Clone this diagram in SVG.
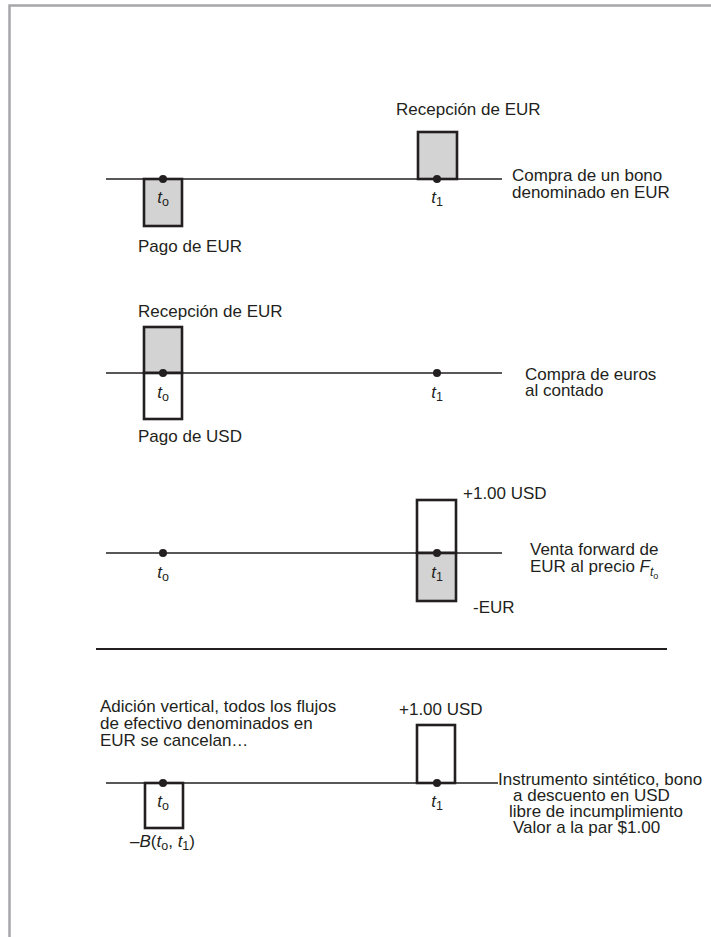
<svg xmlns="http://www.w3.org/2000/svg" width="711" height="937" viewBox="0 0 711 937">
<style>
text{font-family:"Liberation Sans",Arial,sans-serif;font-size:17px;fill:#231f20}
.it{font-style:italic}
.sub{font-size:12.5px;font-style:normal}
.ax{stroke:#231f20;stroke-width:1.6;fill:none}
.box{stroke:#231f20;stroke-width:2.6}
.g{fill:#d3d3d3}
.w{fill:#ffffff}
.dot{fill:#231f20}
</style>
<rect x="0" y="0" width="711" height="937" fill="#ffffff"/>
<polyline points="9.5,937 9.5,5.5 711,5.5" fill="none" stroke="#a7a7a9" stroke-width="2.5"/>

<g id="connectors">
<line class="ax" x1="106" y1="179" x2="502" y2="179"/>
<line class="ax" x1="106" y1="373" x2="502" y2="373"/>
<line class="ax" x1="106" y1="553" x2="502" y2="553"/>
<line x1="96" y1="649" x2="667" y2="649" stroke="#231f20" stroke-width="2"/>
<line class="ax" x1="106" y1="783" x2="498" y2="783"/>
</g>

<g id="s1-t0">
<rect class="box g" x="144" y="179" width="38" height="47"/>
<circle class="dot" cx="163" cy="179" r="4"/>
<text x="163" y="203" text-anchor="middle"><tspan class="it">t</tspan><tspan class="sub" dy="3">o</tspan></text>
<text x="138" y="252">Pago de EUR</text>
</g>
<g id="s1-t1">
<rect class="box g" x="418" y="132" width="39" height="47"/>
<circle class="dot" cx="437" cy="179" r="4"/>
<text x="437" y="203" text-anchor="middle"><tspan class="it">t</tspan><tspan class="sub" dy="3">1</tspan></text>
<text x="396" y="115">Recepción de EUR</text>
</g>
<g id="s1-label">
<text x="512" y="181">Compra de un bono</text>
<text x="512" y="198">denominado en EUR</text>
</g>

<g id="s2-t0">
<rect class="box g" x="144" y="327" width="38" height="46"/>
<rect class="box w" x="144" y="373" width="38" height="46"/>
<line class="ax" x1="144" y1="373" x2="182" y2="373"/>
<circle class="dot" cx="163" cy="373" r="4"/>
<text x="163" y="398" text-anchor="middle"><tspan class="it">t</tspan><tspan class="sub" dy="3">o</tspan></text>
<text x="138" y="317">Recepción de EUR</text>
<text x="138" y="442">Pago de USD</text>
</g>
<g id="s2-t1">
<circle class="dot" cx="437" cy="373" r="4"/>
<text x="437" y="398" text-anchor="middle"><tspan class="it">t</tspan><tspan class="sub" dy="3">1</tspan></text>
</g>
<g id="s2-label">
<text x="525" y="380">Compra de euros</text>
<text x="525" y="396">al contado</text>
</g>

<g id="s3-t0">
<circle class="dot" cx="163" cy="553" r="4"/>
<text x="163" y="578" text-anchor="middle"><tspan class="it">t</tspan><tspan class="sub" dy="3">o</tspan></text>
</g>
<g id="s3-t1">
<rect class="box w" x="417" y="500" width="39" height="53"/>
<rect class="box g" x="417" y="553" width="39" height="48"/>
<line class="ax" x1="417" y1="553" x2="456" y2="553"/>
<circle class="dot" cx="437" cy="553" r="4"/>
<text x="437" y="578" text-anchor="middle"><tspan class="it">t</tspan><tspan class="sub" dy="3">1</tspan></text>
<text x="463" y="499">+1.00 USD</text>
<text x="473" y="613">-EUR</text>
</g>
<g id="s3-label">
<text x="530" y="555">Venta forward de</text>
<text x="530" y="572">EUR al precio <tspan class="it">F</tspan><tspan class="it" font-size="12px" dy="4">t</tspan><tspan font-size="9px" dy="3">o</tspan></text>
</g>

<g id="s4-text">
<text x="100" y="712">Adición vertical, todos los flujos</text>
<text x="100" y="729">de efectivo denominados en</text>
<text x="100" y="746">EUR se cancelan…</text>
</g>
<g id="s4-t0">
<rect class="box w" x="145" y="783" width="38" height="45"/>
<line class="ax" x1="145" y1="783" x2="183" y2="783"/>
<circle class="dot" cx="163" cy="783" r="4"/>
<text x="163" y="807" text-anchor="middle"><tspan class="it">t</tspan><tspan class="sub" dy="3">o</tspan></text>
<text x="130" y="847">–<tspan class="it">B</tspan>(<tspan class="it">t</tspan><tspan class="sub" dy="3">o</tspan><tspan dy="-3">, </tspan><tspan class="it">t</tspan><tspan class="sub" dy="3">1</tspan><tspan dy="-3">)</tspan></text>
</g>
<g id="s4-t1">
<rect class="box w" x="417" y="725" width="38" height="58"/>
<line class="ax" x1="417" y1="783" x2="455" y2="783"/>
<circle class="dot" cx="437" cy="783" r="4"/>
<text x="437" y="807" text-anchor="middle"><tspan class="it">t</tspan><tspan class="sub" dy="3">1</tspan></text>
<text x="399" y="715">+1.00 USD</text>
</g>
<g id="s4-label">
<text x="498" y="785">Instrumento sintético, bono</text>
<text x="513" y="801">a descuento en USD</text>
<text x="509" y="817">libre de incumplimiento</text>
<text x="513" y="833">Valor a la par $1.00</text>
</g>
</svg>
